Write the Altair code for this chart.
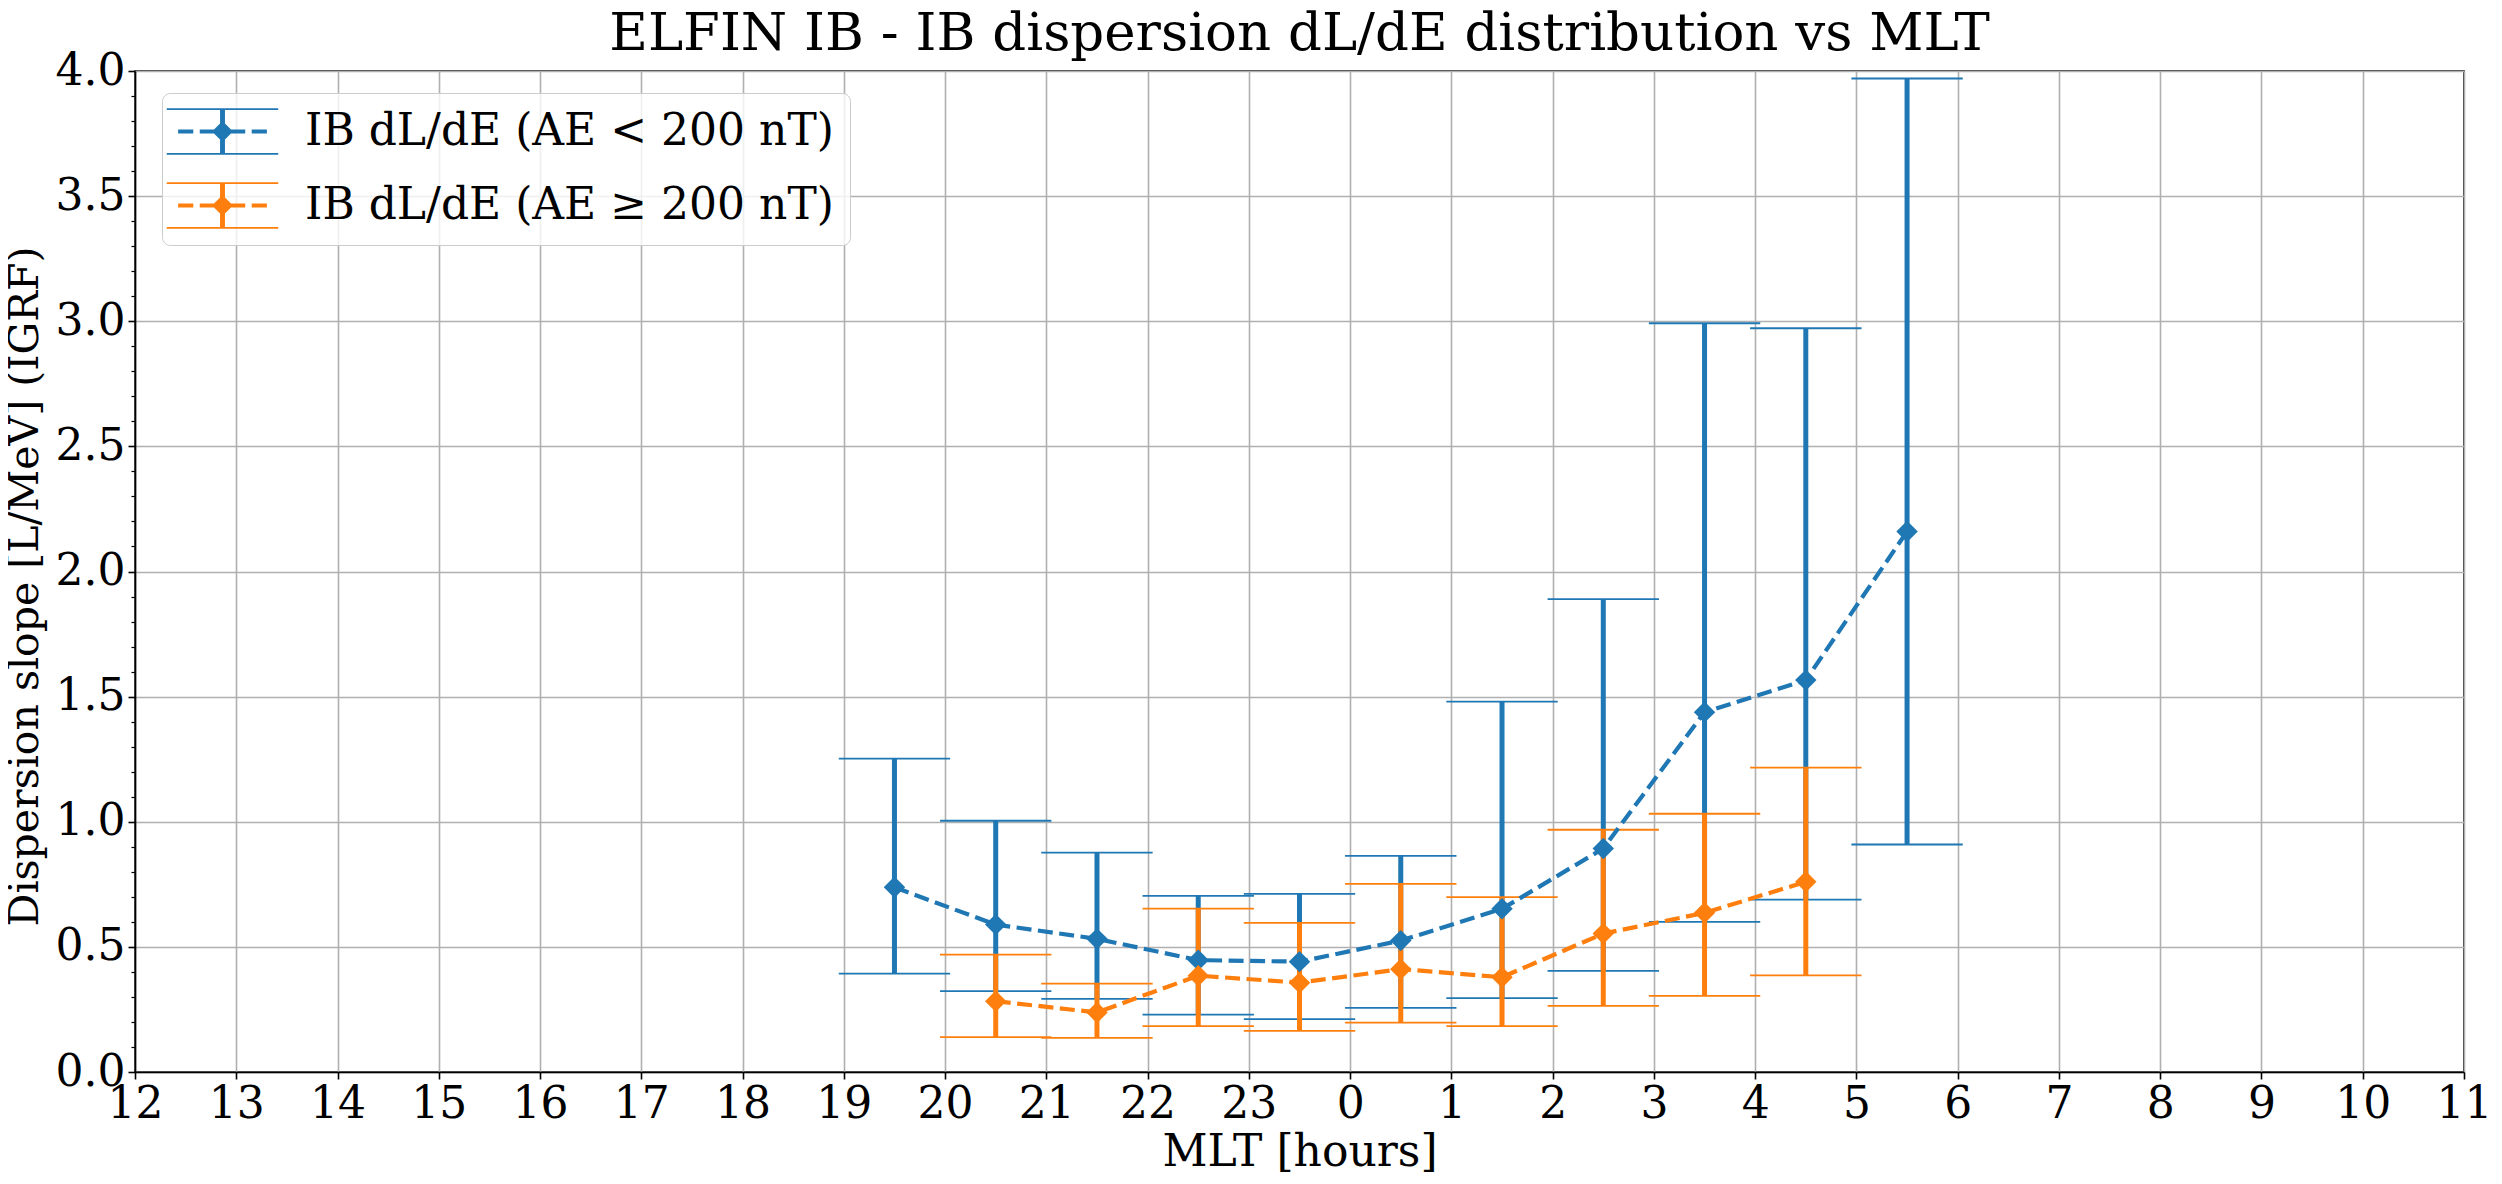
import altair as alt
import pandas as pd

# ---- data ----
blue_mlt = [19.5, 20.5, 21.5, 22.5, 23.5, 0.5, 1.5, 2.5, 3.5, 4.5, 5.5]
blue_med = [0.738, 0.589, 0.532, 0.447, 0.441, 0.525, 0.652, 0.893, 1.438, 1.566, 2.160]
blue_lo = [0.393, 0.323, 0.292, 0.229, 0.211, 0.256, 0.295, 0.404, 0.600, 0.689, 0.909]
blue_hi = [1.252, 1.004, 0.877, 0.704, 0.712, 0.864, 1.480, 1.890, 2.992, 2.972, 3.970]

orange_mlt = [20.5, 21.5, 22.5, 23.5, 0.5, 1.5, 2.5, 3.5, 4.5]
orange_med = [0.283, 0.238, 0.385, 0.357, 0.411, 0.379, 0.553, 0.636, 0.760]
orange_lo = [0.139, 0.136, 0.183, 0.164, 0.197, 0.183, 0.264, 0.304, 0.386]
orange_hi = [0.469, 0.353, 0.653, 0.596, 0.752, 0.699, 0.968, 1.032, 1.216]

series_labels = ["IB dL/dE (AE < 200 nT)", "IB dL/dE (AE \u2265 200 nT)"]
series_colors = ["#1f77b4", "#ff7f0e"]
mlt_tick_labels = list(range(12, 24)) + list(range(0, 12))

# ---- build table ----
rows = []
for s, (m, med, lo, hi) in enumerate([(blue_mlt, blue_med, blue_lo, blue_hi),
                                        (orange_mlt, orange_med, orange_lo, orange_hi)]):
    for a, b, c, d in zip(m, med, lo, hi):
        rows.append({"series": series_labels[s], "sid": s, "mlt": a,
                     "med": b, "lo": c, "hi": d})
df = pd.DataFrame(rows)
df["pos"] = (df["mlt"] - 12) % 24
CAP = 0.55
df["cap_l"] = df["pos"] - CAP
df["cap_r"] = df["pos"] + CAP

FONT = "DejaVu Serif"
label_expr = "(datum.value + 12) % 24"

xscale = alt.Scale(domain=[0, 23], nice=False, zero=False)
yscale = alt.Scale(domain=[0, 4], nice=False, zero=True)

yvals = [round(i * 0.1, 1) for i in range(41)]
major_test = "abs(datum.value*2 - round(datum.value*2)) < 0.001"

x_axis = alt.Axis(values=list(range(24)), labelExpr=label_expr, title="MLT [hours]",
                  grid=True, gridColor="#b0b0b0", gridWidth=1.6,
                  tickSize=7, tickWidth=1.6, tickColor="black",
                  domainColor="black", domainWidth=1.6,
                  labelFont=FONT, labelFontSize=44, labelColor="black", labelPadding=3,
                  labelFlush=False, labelOverlap=False,
                  titleFont=FONT, titleFontSize=44, titleFontWeight="normal",
                  titleColor="black", titlePadding=4)
y_axis = alt.Axis(values=yvals, labelExpr=major_test + " ? format(datum.value, '.1f') : ''",
                  title="Dispersion slope [L/MeV] (IGRF)",
                  grid=True, gridColor="#b0b0b0", gridWidth=1.6,
                  gridOpacity={"condition": {"test": major_test, "value": 1}, "value": 0},
                  tickSize={"condition": {"test": major_test, "value": 7}, "value": 4},
                  tickWidth={"condition": {"test": major_test, "value": 1.6}, "value": 1.2},
                  tickColor="black",
                  domainColor="black", domainWidth=1.6,
                  labelFont=FONT, labelFontSize=44, labelColor="black", labelPadding=3,
                  labelFlush=False, labelOverlap=False,
                  titleFont=FONT, titleFontSize=41, titleFontWeight="normal",
                  titleColor="black", titlePadding=9, titleY=515)

legend_path = (
    "M-2.5,-1.04L2.5,-1.04L2.5,-0.96L-2.5,-0.96Z"
    "M-2.5,0.96L2.5,0.96L2.5,1.04L-2.5,1.04Z"
    "M-0.11,-1L0.11,-1L0.11,1L-0.11,1Z"
    "M-1.99,-0.09L-1.31,-0.09L-1.31,0.09L-1.99,0.09Z"
    "M-1.02,-0.09L-0.35,-0.09L-0.35,0.09L-1.02,0.09Z"
    "M0.35,-0.09L1.02,-0.09L1.02,0.09L0.35,0.09Z"
    "M1.31,-0.09L1.99,-0.09L1.99,0.09L1.31,0.09Z"
    "M0,-0.47L0.47,0L0,0.47L-0.47,0Z"
)

legend = alt.Legend(title=None, orient="none", legendX=27, legendY=22,
                    symbolType=legend_path, symbolSize=1989, symbolStrokeWidth=0,
                    symbolOpacity=1, symbolOffset=22, labelOffset=60,
                    labelFont=FONT, labelFontSize=44, labelColor="black", labelLimit=2000,
                    rowPadding=27, padding=16, cornerRadius=8,
                    fillColor="rgba(255,255,255,0.8)", strokeColor="#cccccc")

color_enc = alt.Color("series:N", scale=alt.Scale(domain=series_labels, range=series_colors),
                      legend=legend)

base = alt.Chart(df)
layers = []
# error bars: blue then orange
for s in range(2):
    sub = base.transform_filter(alt.datum.sid == s)
    layers.append(sub.mark_rule(strokeWidth=5, color=series_colors[s]).encode(
        x=alt.X("pos:Q", scale=xscale, axis=x_axis),
        y=alt.Y("lo:Q", scale=yscale, axis=y_axis),
        y2="hi:Q"))
    for f in ["lo", "hi"]:
        layers.append(sub.mark_rule(strokeWidth=1.8, color=series_colors[s]).encode(
            x=alt.X("cap_l:Q", scale=xscale, axis=x_axis),
            x2="cap_r:Q",
            y=alt.Y(f + ":Q", scale=yscale, axis=y_axis)))
# data lines + markers
for s in range(2):
    sub = base.transform_filter(alt.datum.sid == s)
    layers.append(sub.mark_line(strokeWidth=4.2, strokeDash=[15, 6.5],
                                color=series_colors[s]).encode(
        x=alt.X("pos:Q", scale=xscale, axis=x_axis),
        y=alt.Y("med:Q", scale=yscale, axis=y_axis),
        order="pos:Q"))
    layers.append(sub.mark_point(shape="diamond", filled=True, size=460, opacity=1,
                                 strokeWidth=0).encode(
        x=alt.X("pos:Q", scale=xscale, axis=x_axis),
        y=alt.Y("med:Q", scale=yscale, axis=y_axis),
        color=color_enc))

chart = alt.layer(*layers).properties(
    width=2329, height=1001,
    title=alt.TitleParams("ELFIN IB - IB dispersion dL/dE distribution vs MLT",
                          font=FONT, fontSize=53, fontWeight="normal", color="black",
                          offset=8, dy=20, anchor="middle"),
    autosize=alt.AutoSizeParams(type="none"),
    padding={"left": 127, "top": 63, "right": 25, "bottom": 100},
    background="white",
).configure_view(stroke="black", strokeWidth=1.6)

chart.save("out.html", embed_options={"renderer": "svg", "actions": False})
